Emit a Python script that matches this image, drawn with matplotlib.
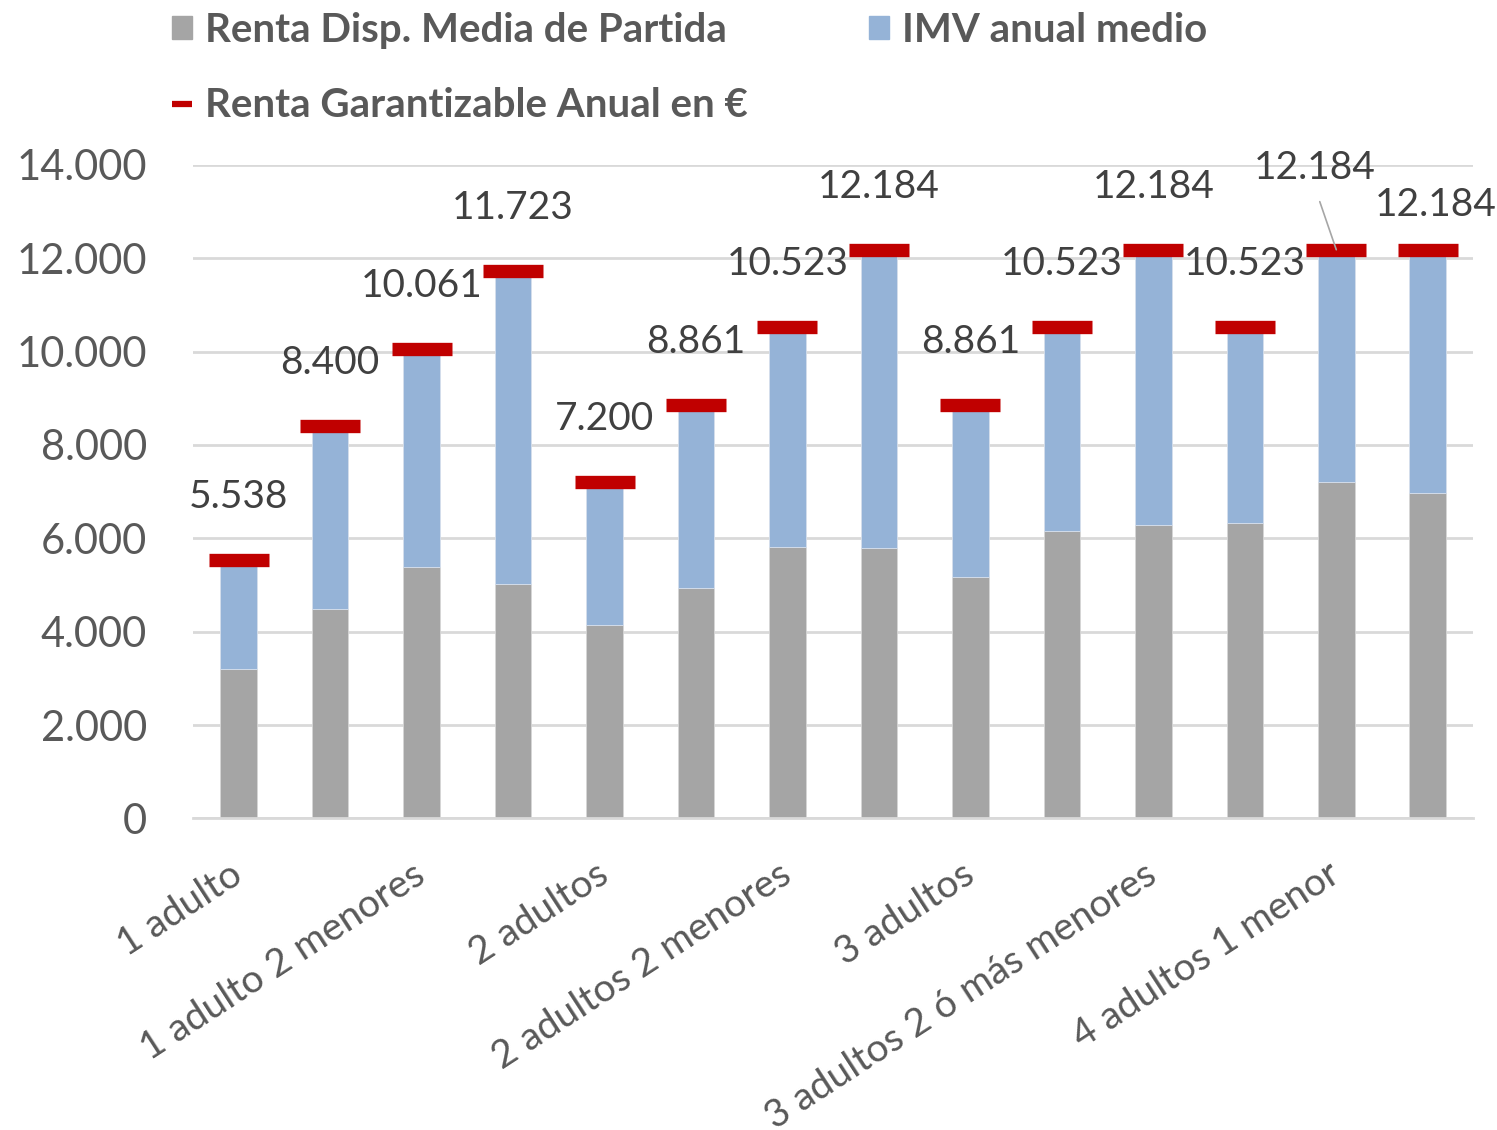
import matplotlib
matplotlib.use('Agg')
from matplotlib import pyplot as plt
from matplotlib.patches import Patch
from matplotlib.lines import Line2D
from matplotlib.ticker import FuncFormatter
import numpy as np

plt.rcParams['font.family'] = ['Lato', 'DejaVu Sans']

hogares = ['1 adulto', '1 adulto 1 menor', '1 adulto 2 menores', '1 adulto 3 ó más menores',
           '2 adultos', '2 adultos 1 menor', '2 adultos 2 menores', '2 adultos 3 ó más menores',
           '3 adultos', '3 adultos 1 menor', '3 adultos 2 ó más menores', '4 adultos',
           '4 adultos 1 menor', 'Otros']
renta_disp = [3210, 4480, 5380, 5020, 4140, 4930, 5810, 5800, 5170, 6150, 6280, 6320, 7210, 6970]
imv_medio = [2330, 3920, 4680, 6700, 3060, 3930, 4710, 6380, 3690, 4370, 5900, 4200, 4970, 5210]
renta_garant = [5538, 8400, 10061, 11723, 7200, 8861, 10523, 12184, 8861, 10523, 12184, 10523, 12184, 12184]

gris = '#a5a5a5'
azul = '#95b3d7'
rojo = '#c00000'
texto = '#595959'


def miles(v, pos=None):
    return f'{v:,.0f}'.replace(',', '.')


fig = plt.figure(figsize=(14.97, 11.3), dpi=100)
ax = fig.add_axes([0.1289, 0.2758, 0.8554, 0.5782])

x = np.arange(len(hogares))
ax.bar(x, renta_disp, width=0.4, color=gris, edgecolor='#d6d6d6', linewidth=0.6, zorder=2)
ax.bar(x, imv_medio, width=0.4, bottom=renta_disp, color=azul, edgecolor='#d6dfec',
       linewidth=0.6, zorder=2)
ax.plot(x, renta_garant, linestyle='none', marker='_', markersize=43, markeredgewidth=9.6,
        color=rojo, zorder=3)

# etiquetas de datos (las dos últimas movidas a mano como en el original)
for i, v in enumerate(renta_garant):
    dx, dy = 0, 52
    arrow = None
    if i == 12:
        dx, dy = -22, 71
        arrow = dict(arrowstyle='-', color='#a6a6a6', lw=1.2, relpos=(0.5, 0.0),
                     shrinkA=10, shrinkB=0)
    elif i == 13:
        dx, dy = 8, 34
    ax.annotate(miles(v), xy=(i, v), xytext=(dx, dy), textcoords='offset pixels',
                ha='center', va='baseline', fontsize=28, color='#404040',
                arrowprops=arrow, zorder=4)

ax.set_xlim(-0.5, len(hogares) - 0.5)
ax.set_ylim(0, 14000)
ax.set_yticks(np.arange(0, 14001, 2000))
ax.yaxis.set_major_formatter(FuncFormatter(miles))
ax.set_xticks(x)
ax.set_xticklabels([h if i % 2 == 0 else '' for i, h in enumerate(hogares)],
                   rotation=33, ha='right', va='center', rotation_mode='anchor')

ax.grid(axis='y', color='#d9d9d9', linewidth=2, zorder=0)
ax.set_axisbelow(True)
for s in ['top', 'right', 'left']:
    ax.spines[s].set_visible(False)
ax.spines['bottom'].set_color('#d9d9d9')
ax.spines['bottom'].set_linewidth(2)
ax.tick_params(axis='y', length=0, pad=33, labelsize=30, labelcolor=texto)
ax.tick_params(axis='x', length=0, pad=38, labelsize=28, labelcolor=texto)

handles = [Patch(color=gris), Line2D([], [], color=rojo, lw=4.5, solid_capstyle='butt'),
           Patch(color=azul)]
labels = ['Renta Disp. Media de Partida', 'Renta Garantizable Anual en €', 'IMV anual medio']
leg = fig.legend(handles, labels, loc='upper left', bbox_to_anchor=(172 / 1497, 1 - 12 / 1130),
                 ncol=2, frameon=False, borderpad=0, borderaxespad=0, handlelength=0.5,
                 handleheight=0.5, handletextpad=0.33, columnspacing=3.0, labelspacing=0.95,
                 prop={'size': 29, 'weight': 'bold'})
for t in leg.get_texts():
    t.set_color(texto)

plt.savefig('out.png', dpi=100)
